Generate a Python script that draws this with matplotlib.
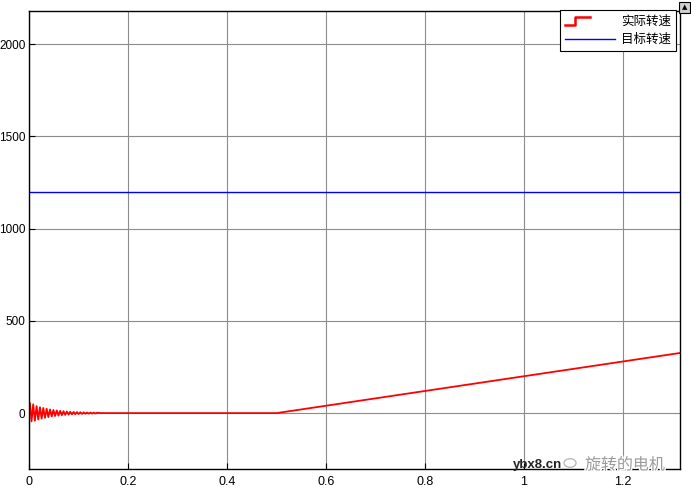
import matplotlib
matplotlib.use("Agg")
import matplotlib.pyplot as plt
import matplotlib.patheffects as pe
from matplotlib.legend_handler import HandlerLine2D
from matplotlib.lines import Line2D
from matplotlib.patches import Rectangle, Circle

plt.rcParams['font.family'] = ['Liberation Sans', 'Noto Sans CJK SC', 'DejaVu Sans']

# --- data ---
target_t = [0.0, 1.32]
target_v = [1200, 1200]

# start-up ringing of the actual speed (half-period samples)
osc_t = [0.0000, 0.0017, 0.0051, 0.0085, 0.0119, 0.0153, 0.0187, 0.0221,
         0.0255, 0.0289, 0.0323, 0.0357, 0.0391, 0.0425, 0.0459, 0.0493,
         0.0527, 0.0561, 0.0595, 0.0629, 0.0663, 0.0697, 0.0731, 0.0765,
         0.0799, 0.0833, 0.0867, 0.0901, 0.0935, 0.0969, 0.1003, 0.1037,
         0.1071, 0.1105, 0.1139, 0.1173, 0.1207, 0.1241, 0.1275, 0.1309,
         0.1343, 0.1377]
osc_v = [0, 55, -45, 48, -41, 38, -35, 32, -30, 28,
         -25.5, 23.5, -21.7, 20, -18.5, 17, -15.7, 14.5, -13.3, 12.3,
         -11.4, 10.5, -9.6, 8.9, -8.2, 7.6, -7, 6.4, -5.9, 5.5,
         -5.1, 4.7, -4.3, 4, -3.7, 3.4, -3.1, 2.9, -2.7, 2.5,
         -2.3, 2.1]
# then flat, then ramp from 0.5 s
tail_t = [0.145, 0.5, 1.32]
tail_v = [0, 0, 328]

actual_t = osc_t + tail_t
actual_v = osc_v + tail_v

x_ticks = [0, 0.2, 0.4, 0.6, 0.8, 1, 1.2]
x_labels = ["0", "0.2", "0.4", "0.6", "0.8", "1", "1.2"]
y_ticks = [0, 500, 1000, 1500, 2000]


class StepHandler(HandlerLine2D):
    def create_artists(self, legend, orig_handle, xdescent, ydescent,
                       width, height, fontsize, trans):
        w = width * 0.5
        xs = [-xdescent, -xdescent + w * 0.42, -xdescent + w * 0.42, -xdescent + w]
        ys = [height * 0.0, height * 0.0, height * 0.85, height * 0.85]
        ln = Line2D(xs, ys, color=orig_handle.get_color(), lw=1.8)
        ln.set_transform(trans)
        return [ln]


fig = plt.figure(figsize=(6.91, 4.96), dpi=100)
ax = fig.add_axes([29 / 691, 27 / 496, 651 / 691, 458 / 496])

ax.plot(actual_t, actual_v, color="#ff0000", lw=1.3, label="实际转速")
ax.plot(target_t, target_v, color="#0000ff", lw=1.0, label="目标转速")

ax.set_xlim(0, 1.315)
ax.set_ylim(-303, 2180)
ax.set_xticks(x_ticks)
ax.set_xticklabels(x_labels)
ax.set_yticks(y_ticks)
ax.grid(True, color="#8c8c8c", lw=0.8, ls="-")
ax.tick_params(direction="in", length=4, colors="black")
ax.tick_params(axis="y", pad=2.5, labelsize=8.5)
ax.tick_params(axis="x", pad=5, labelsize=9)
for s in ax.spines.values():
    s.set_color("black")
    s.set_linewidth(1.0)

h, l = ax.get_legend_handles_labels()
leg = ax.legend(h, l, loc="upper right", bbox_to_anchor=(0.994, 1.003),
                handler_map={h[0]: StepHandler()},
                fancybox=False, framealpha=1, edgecolor="black",
                borderpad=0.4, labelspacing=0.45, handlelength=4.0,
                handletextpad=0.5, borderaxespad=0.0,
                prop={'family': ['Noto Sans CJK SC', 'DejaVu Sans'], 'size': 9})
leg.get_frame().set_linewidth(0.8)

# small scope button at the top right corner
fig.patches.append(Rectangle((679 / 691, 483 / 496), 11 / 691, 11 / 496,
                             transform=fig.transFigure, facecolor="#d0d0d0",
                             edgecolor="black", lw=0.8))
fig.text(684.5 / 691, 488.5 / 496, "▲", fontsize=5, ha="center", va="center",
         family="DejaVu Sans")

# watermark
fig.text(513 / 691, 31 / 496, "ybx8.cn", fontsize=9.5, color="#222222",
         ha="left", va="center", weight="bold")
fig.patches.append(Circle((570 / 691, 33 / 496), 6 / 691, transform=fig.transFigure,
                          facecolor="none", edgecolor="#bbbbbb", lw=1.0))
fig.text(585 / 691, 31 / 496, "旋转的电机", fontsize=11.5, color="#9a9a9a",
         ha="left", va="center", family=['Noto Sans CJK SC', 'DejaVu Sans'],
         path_effects=[pe.withStroke(linewidth=2, foreground="white")])

fig.savefig("out.png", dpi=100)
